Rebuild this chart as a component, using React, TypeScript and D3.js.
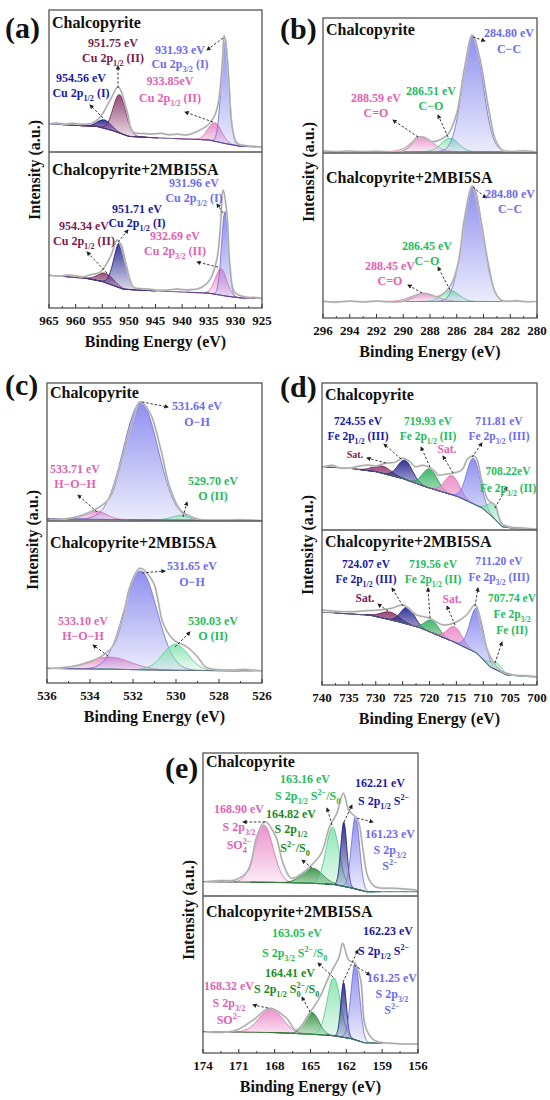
import React from "react";
import * as d3 from "d3";

const FONT = "'Liberation Serif', 'Times New Roman', serif";

// x-axis tick labels (binding energy, eV)
const ticksA = [965, 960, 955, 950, 945, 940, 935, 930, 925];
const ticksB = [296, 294, 292, 290, 288, 286, 284, 282, 280];
const ticksC = [536, 534, 532, 530, 528, 526];
const ticksD = [740, 735, 730, 725, 720, 715, 710, 705, 700];
const ticksE = [174, 171, 168, 165, 162, 159, 156];

// fitted components: [binding energy, height, FWHM, colour]
const peaksATop = [[954.56, 6, 3.0, "blue"], [951.75, 27, 2.8, "maroon"], [933.85, 13, 3.0, "pink"], [931.93, 74, 1.7, "lav"]];
const peaksABot = [[954.34, 6, 3.5, "maroon"], [951.71, 29, 2.6, "blue"], [932.69, 17, 2.5, "pink"], [931.96, 54, 1.5, "lav"]];
const peaksBTop = [[288.59, 11, 1.9, "pink"], [286.51, 10, 1.5, "mint"], [284.8, 86, 1.75, "lav"]];
const peaksBBot = [[288.45, 5, 2.2, "pink"], [286.45, 6.5, 1.5, "mint"], [284.8, 70, 1.75, "lav"]];
const peaksCTop = [[533.71, 6, 1.1, "pink"], [531.64, 85, 1.9, "lav"], [529.7, 3.5, 1.1, "mint"]];
const peaksCBot = [[533.1, 7.5, 2.3, "pink"], [531.65, 61, 1.8, "lav"], [530.03, 16, 1.4, "mint"]];
const peaksDTop = [[728.8, 5, 4, "maroon"], [724.55, 13, 3.2, "blue"], [719.93, 13, 3.2, "green"], [715.8, 13, 3.2, "pink"], [711.81, 31, 3.0, "lav"], [708.22, 9, 2.3, "mint"]];
const peaksDBot = [[727.3, 5, 4, "maroon"], [724.07, 11, 3.0, "blue"], [719.56, 8, 3.0, "green"], [715.3, 10, 3.2, "pink"], [711.2, 29, 3.0, "lav"], [707.74, 5, 2.5, "mint"]];
const peaksETop = [[168.9, 40, 1.8, "pink"], [164.82, 10.5, 2.0, "dgreen"], [163.16, 40, 1.3, "mint"], [162.21, 45, 0.6, "blue"], [161.23, 51, 0.8, "lav"]];
const peaksEBot = [[168.32, 15, 2.3, "pink"], [164.9, 14, 1.4, "dgreen"], [163.05, 37, 1.3, "mint"], [162.23, 35, 0.55, "blue"], [161.25, 49, 0.85, "lav"]];

// backgrounds: [binding energy, intensity]
const bgATop = [[965, 19.7], [956, 18], [953, 15], [950, 11], [945, 10], [935, 8.5], [932, 6], [929, 4], [925, 3.5]];
const bgABot = [[965, 21], [958, 19], [955, 17], [951, 12], [945, 11], [935, 9.5], [931.5, 7.5], [929, 6.5], [925, 6]];
const bgBTop = [[296, 1.2], [286, 1], [280, 0.8]];
const bgBBot = [[296, 10], [280, 10]];
const bgCTop = [[536, 1.5], [531, 0.8], [526, 0.3]];
const bgCBot = [[536, 9], [533, 8.5], [530, 7.8], [526, 7.5]];
const bgDTop = [[740, 43], [735, 42], [730, 39.7], [725, 35], [720.8, 29.5], [714.7, 22.7], [710.2, 15], [708, 8], [706.5, 2.3], [704, 1], [700, 0.5]];
const bgDBot = [[740, 47], [731, 45], [726, 41], [721.8, 37], [715.6, 28], [711.2, 20.6], [708.7, 11.6], [705.6, 6.5], [700, 5]];
const bgETop = [[174, 10], [168, 9.5], [165, 9], [163, 8], [161.5, 5.5], [160.3, 3], [156, 3]];
const bgEBot = [[174, 13.6], [168, 13], [165, 12], [163, 11], [161.5, 9], [160.5, 6.5], [156, 5.7]];

// measured spectra: [binding energy, intensity]
const rawATop = [[965, 19.7], [963.5, 20.4], [962, 19.6], [960.5, 20.3], [959, 19.5], [957, 20.2], [955.4, 24.6], [953.5, 36.6], [952, 45.8], [950.4, 29.6], [949.2, 14], [947.3, 13], [945.5, 12.6], [944, 13.2], [942.5, 12.1], [941, 12.6], [939.1, 12], [936.6, 15.5], [934.8, 20.4], [933.5, 29.6], [932.5, 60], [932.1, 82], [931.4, 60], [930.6, 17.6], [929.7, 6.3], [928, 4.5], [926.5, 4], [925.2, 3.5]];
const rawABot = [[965, 21], [963, 20.4], [961.5, 21.2], [960, 20.6], [958.6, 20], [957, 21.5], [955.4, 23], [953.5, 32.7], [952.2, 43.6], [951.7, 41.7], [950.4, 26.3], [949.2, 13.5], [947.5, 12.4], [946, 12], [944.5, 11.4], [942.8, 11.5], [941, 12.1], [939, 11.6], [936.6, 12.8], [934.8, 18], [933.5, 30.8], [932.9, 48], [932.3, 75.6], [931.6, 61], [931, 26.3], [930.1, 10], [928, 7], [926.5, 6.8], [925.2, 6.4]];
const rawBTop = [[296, 1.5], [295, 0.9], [294, 1.4], [293, 0.9], [292, 1.3], [291, 0.8], [290.1, 1.2], [289.5, 5], [288.9, 12], [288.2, 10], [287.8, 8.4], [287.2, 10], [286.6, 14.6], [286, 29.4], [285.4, 63.9], [284.84, 87.4], [284.3, 71.3], [283.6, 31.8], [283.1, 9.6], [282.6, 2.2], [282, 1.2], [281, 1.6], [280.2, 1]];
const rawBBot = [[296, 10.2], [295, 9.6], [294, 10.3], [293, 9.7], [292, 10.3], [291, 9.8], [290.1, 10], [289.3, 12], [288.6, 15], [287.8, 13.5], [287.4, 13], [286.5, 19.2], [285.9, 33], [285.4, 61.4], [284.84, 80], [284.3, 63.4], [283.6, 31], [283.1, 15], [282.6, 10.5], [281.5, 10.4], [280.8, 9.8], [280.2, 10]];
const rawCTop = [[535.9, 0.7], [535.2, 1.5], [534.6, 3.1], [533.8, 8], [533.1, 16.4], [532.6, 39.4], [532.1, 68.3], [531.67, 86.4], [531.2, 78], [530.7, 51.4], [530.3, 24.9], [529.8, 8], [529.3, 3.1], [528.9, 1], [528, 0.6], [527, 0.9], [526.1, 0.4]];
const rawCBot = [[535.9, 9], [534.5, 11], [533.5, 16.2], [532.9, 23.5], [532.45, 41], [532.14, 59.5], [531.67, 70.8], [531.05, 62], [530.85, 52], [530.6, 36.8], [530.1, 26.5], [529.5, 22.4], [529, 16.2], [528.6, 9.7], [527.5, 8], [526.8, 8.3], [526.1, 7.6]];
const rawDTop = [[739.75, 43], [738, 44], [737, 42.5], [735.1, 42], [733, 43.5], [731.4, 44.2], [730, 43.5], [728.3, 45.4], [726.5, 46], [724.9, 48.8], [723.5, 46], [722.7, 43], [721.3, 44], [720.2, 43], [719, 40], [718.4, 37.4], [717, 38], [715.9, 38.5], [714, 40.8], [712.8, 48.8], [711.5, 49.9], [710.3, 34], [709.1, 20.4], [707.8, 17], [706.6, 4.5], [705, 2], [703, 1.5], [701.5, 1], [700, 0.5]];
const rawDBot = [[740, 48.4], [737, 47.5], [734.2, 47.3], [731.5, 48], [729.2, 48.4], [727, 49.5], [724.9, 51.6], [722.4, 45.2], [721, 44], [719.9, 43], [717.4, 38.7], [714.9, 40.8], [713.1, 45.2], [711.5, 51.6], [710, 31.2], [708.7, 18.3], [706.9, 9.7], [704.4, 6.5], [702, 6], [700, 5.4]];
const rawETop = [[173.8, 10], [172.5, 10.8], [171.3, 11.2], [170.2, 18.2], [169.5, 41.5], [168.8, 52], [167.9, 41.5], [167.3, 22.9], [166.6, 12.4], [165.7, 15.9], [164.9, 21.7], [164.1, 29.9], [163.4, 48.5], [162.8, 57.8], [162.25, 71.8], [161.8, 60.1], [161.4, 56.6], [161, 52], [160.6, 32.2], [160.2, 13.5], [159.6, 6.5], [157.9, 5.4], [156.1, 4.2]];
const rawEBot = [[173.8, 13.6], [172.5, 13.1], [171.2, 14.6], [169.8, 21], [168.4, 28.5], [167, 22.1], [166.2, 14.6], [165, 26.3], [164.2, 35.9], [163.4, 49.7], [162.6, 61.3], [162.3, 69.9], [161.8, 59.2], [161.27, 57.1], [160.8, 46.5], [160.4, 16.8], [159.7, 8.3], [158.3, 6.2], [156.1, 5.7]];

const COLORS: any = {
  lav: { fill: "#8383ee", stroke: "#6a6ad8", text: "#6c6cf0" },
  blue: { fill: "#1e1e8c", stroke: "#16166e", text: "#1a1aa6" },
  maroon: { fill: "#8a3468", stroke: "#6a1e4c", text: "#7a1c52" },
  pink: { fill: "#ea86c6", stroke: "#d46aae", text: "#e262b4" },
  mint: { fill: "#86e4b0", stroke: "#4cc487", text: "#1fbd5c" },
  green: { fill: "#2fae5e", stroke: "#1f8c48", text: "#1fbd5c" },
  dgreen: { fill: "#2a8f3c", stroke: "#1d6e2c", text: "#1b8a22" },
};

// annotation labels: x, y (first baseline), colour, lines, line height
const labelsA = [
  { x: 113, y: 47, c: "maroon", lh: 15, lines: ["951.75 eV", "Cu 2p_{1/2} (II)"] },
  { x: 81, y: 82, c: "blue", lh: 15, lines: ["954.56 eV", "Cu 2p_{1/2} (I)"] },
  { x: 180, y: 54, c: "lav", lh: 14, lines: ["931.93 eV", "Cu 2p_{3/2} (I)"] },
  { x: 170, y: 85, c: "pink", lh: 17, lines: ["933.85eV", "Cu 2p_{3/2} (II)"] },
  { x: 194, y: 187, c: "lav", lh: 15, lines: ["931.96 eV", "Cu 2p_{3/2} (I)"] },
  { x: 137, y: 213, c: "blue", lh: 14, lines: ["951.71 eV", "Cu 2p_{1/2} (I)"] },
  { x: 84, y: 230, c: "maroon", lh: 15, lines: ["954.34 eV", "Cu 2p_{1/2} (II)"] },
  { x: 175, y: 240, c: "pink", lh: 15, lines: ["932.69 eV", "Cu 2p_{3/2} (II)"] },
];
const arrowsA = [[223, 38, 207, 50], [213, 122, 185, 112], [118, 88, 118, 66], [103, 118, 90, 105], [223, 213, 217, 204], [118, 242, 128, 230], [107, 273, 87, 252], [218, 267, 197, 262]];

const labelsB = [
  { x: 509, y: 37, c: "lav", lh: 16, lines: ["284.80 eV", "C\u2212C"] },
  { x: 431, y: 95, c: "mint", lh: 15, lines: ["286.51 eV", "C\u2212O"] },
  { x: 376, y: 102, c: "pink", lh: 15, lines: ["288.59 eV", "C=O"] },
  { x: 510, y: 198, c: "lav", lh: 15, lines: ["284.80 eV", "C\u2212C"] },
  { x: 427, y: 250, c: "mint", lh: 15, lines: ["286.45 eV", "C\u2212O"] },
  { x: 390, y: 270, c: "pink", lh: 15, lines: ["288.45 eV", "C=O"] },
];
const arrowsB = [[473, 37, 485, 41], [448, 137, 438, 115], [418, 137, 393, 120], [473, 187, 486, 198], [450, 290, 438, 267], [422, 293, 408, 285]];

const labelsC = [
  { x: 197, y: 410, c: "lav", lh: 16, lines: ["531.64 eV", "O\u2212H"] },
  { x: 75, y: 473, c: "pink", lh: 15, lines: ["533.71 eV", "H\u2212O\u2212H"] },
  { x: 213, y: 485, c: "mint", lh: 15, lines: ["529.70 eV", "O (II)"] },
  { x: 192, y: 570, c: "lav", lh: 16, lines: ["531.65 eV", "O\u2212H"] },
  { x: 83, y: 625, c: "pink", lh: 15, lines: ["533.10 eV", "H\u2212O\u2212H"] },
  { x: 213, y: 625, c: "mint", lh: 15, lines: ["530.03 eV", "O (II)"] },
];
const arrowsC = [[142, 402, 168, 407], [97, 512, 78, 495], [183, 517, 187, 502], [142, 573, 165, 571], [108, 656, 93, 645], [175, 647, 190, 632]];

const labelsD = [
  { x: 358, y: 425, c: "blue", lh: 15, lines: ["724.55 eV", "Fe 2p_{1/2} (III)"] },
  { x: 355, y: 458, c: "maroon", lh: 15, fs: 10, lines: ["Sat."] },
  { x: 428, y: 425, c: "mint", lh: 15, lines: ["719.93 eV", "Fe 2p_{1/2} (II)"] },
  { x: 447, y: 453, c: "pink", lh: 15, lines: ["Sat."] },
  { x: 499, y: 425, c: "lav", lh: 15, lines: ["711.81 eV", "Fe 2p_{3/2} (III)"] },
  { x: 508, y: 475, c: "mint", lh: 17, lines: ["708.22eV", "Fe 2p_{3/2} (II)"] },
  { x: 366, y: 568, c: "blue", lh: 15, lines: ["724.07 eV", "Fe 2p_{1/2} (III)"] },
  { x: 365, y: 602, c: "maroon", lh: 15, lines: ["Sat."] },
  { x: 433, y: 568, c: "mint", lh: 15, lines: ["719.56 eV", "Fe 2p_{1/2} (II)"] },
  { x: 452, y: 603, c: "pink", lh: 15, lines: ["Sat."] },
  { x: 499, y: 565, c: "lav", lh: 16, lines: ["711.20 eV", "Fe 2p_{3/2} (III)"] },
  { x: 512, y: 602, c: "mint", lh: 16, lines: ["707.74 eV", "Fe 2p_{3/2}", "Fe (II)"] },
];
const arrowsD = [[401, 459, 384, 444], [386, 463, 367, 458], [430, 467, 421, 447], [453, 473, 443, 456], [472, 457, 482, 443], [495, 508, 507, 487], [403, 606, 392, 588], [388, 611, 378, 604], [430, 618, 428, 588], [455, 625, 447, 606], [475, 606, 478, 588], [495, 663, 502, 642]];

const labelsE = [
  { x: 305, y: 783, c: "mint", lh: 15, lines: ["163.16 eV"] },
  { x: 275, y: 800, c: "mint", lh: 15, a: "start", lines: ["S 2p_{3/2} S^{2\u2212}/S_{0}"] },
  { x: 380, y: 787, c: "blue", lh: 15, lines: ["162.21 eV"] },
  { x: 358, y: 805, c: "blue", lh: 15, a: "start", lines: ["S 2p_{1/2}  S^{2\u2212}"] },
  { x: 239, y: 813, c: "pink", lh: 18, lines: ["168.90 eV", "S 2p_{3/2}", "SO_{4}^{2\u2212}"] },
  { x: 291, y: 818, c: "dgreen", lh: 15, lines: ["164.82 eV", "S 2p_{1/2}"] },
  { x: 295, y: 852, c: "dgreen", lh: 15, lines: ["S^{2\u2212}/S_{0}"] },
  { x: 390, y: 838, c: "lav", lh: 16, lines: ["161.23 eV", "S 2p_{3/2}", "S^{2\u2212}"] },
  { x: 297, y: 937, c: "mint", lh: 15, lines: ["163.05 eV"] },
  { x: 262, y: 957, c: "mint", lh: 15, a: "start", lines: ["S 2p_{3/2}  S^{2\u2212}/S_{0}"] },
  { x: 388, y: 935, c: "blue", lh: 15, lines: ["162.23 eV"] },
  { x: 358, y: 955, c: "blue", lh: 15, a: "start", lines: ["S 2p_{1/2}  S^{2\u2212}"] },
  { x: 290, y: 977, c: "dgreen", lh: 15, lines: ["164.41 eV"] },
  { x: 254, y: 993, c: "dgreen", lh: 15, a: "start", lines: ["S 2p_{1/2} S_{0}^{2\u2212}/S_{0}"] },
  { x: 229, y: 990, c: "pink", lh: 17, lines: ["168.32 eV", "S 2p_{3/2}", "SO^{2\u2212}"] },
  { x: 392, y: 982, c: "lav", lh: 16, lines: ["161.25 eV", "S 2p_{3/2}", "S^{2\u2212}"] },
];
const arrowsE = [[332, 825, 327, 808], [344, 822, 352, 805], [265, 822, 243, 822], [312, 868, 302, 860], [357, 818, 373, 822], [333, 977, 318, 963], [343, 982, 358, 950], [310, 1012, 302, 997], [268, 1008, 253, 1005], [354, 965, 370, 975]];

const panels = [
  { key: "a", letter: "(a)", lx: 5, ly: 38, left: 49, right: 262, top: 10, mid: 152, bottom: 308, domain: [965, 925], ticks: ticksA, minor: 2.5, yl: 170, bgLine: "#4b3c86",
    subs: [{ title: "Chalcopyrite", ty: 28, peaks: peaksATop, bg: bgATop, raw: rawATop }, { title: "Chalcopyrite+2MBI5SA", ty: 175, peaks: peaksABot, bg: bgABot, raw: rawABot }],
    labels: labelsA, arrows: arrowsA },
  { key: "b", letter: "(b)", lx: 280, ly: 39, left: 323, right: 537, top: 18, mid: 153, bottom: 318, domain: [296, 280], ticks: ticksB, minor: 1, yl: 172, bgLine: "#8a8a8a",
    subs: [{ title: "Chalcopyrite", ty: 35, peaks: peaksBTop, bg: bgBTop, raw: rawBTop }, { title: "Chalcopyrite+2MBI5SA", ty: 183, peaks: peaksBBot, bg: bgBBot, raw: rawBBot }],
    labels: labelsB, arrows: arrowsB },
  { key: "c", letter: "(c)", lx: 5, ly: 395, left: 47, right: 262, top: 383, mid: 521, bottom: 683, domain: [536, 526], ticks: ticksC, minor: 1, yl: 540, bgLine: "#6c6a86",
    subs: [{ title: "Chalcopyrite", ty: 398, peaks: peaksCTop, bg: bgCTop, raw: rawCTop }, { title: "Chalcopyrite+2MBI5SA", ty: 548, peaks: peaksCBot, bg: bgCBot, raw: rawCBot }],
    labels: labelsC, arrows: arrowsC },
  { key: "d", letter: "(d)", lx: 280, ly: 397, left: 322, right: 537, top: 383, mid: 530, bottom: 685, domain: [740, 700], ticks: ticksD, minor: 2.5, yl: 545, bgLine: "#4f5a7c",
    subs: [{ title: "Chalcopyrite", ty: 400, peaks: peaksDTop, bg: bgDTop, raw: rawDTop }, { title: "Chalcopyrite+2MBI5SA", ty: 547, peaks: peaksDBot, bg: bgDBot, raw: rawDBot }],
    labels: labelsD, arrows: arrowsD },
  { key: "e", letter: "(e)", lx: 165, ly: 778, left: 203, right: 418, top: 753, mid: 896, bottom: 1053, domain: [174, 156], ticks: ticksE, minor: 1.5, yl: 910, bgLine: "#2f7a3a",
    subs: [{ title: "Chalcopyrite", ty: 767, peaks: peaksETop, bg: bgETop, raw: rawETop }, { title: "Chalcopyrite+2MBI5SA", ty: 917, peaks: peaksEBot, bg: bgEBot, raw: rawEBot }],
    labels: labelsE, arrows: arrowsE },
];

function rich(str: string, fs: number) {
  const parts = str.match(/(_\{[^}]*\}|\^\{[^}]*\}|[^_^]+)/g) || [];
  const segs = parts.map((p) =>
    p.startsWith("_{") ? { t: p.slice(2, -1), k: "sub" } : p.startsWith("^{") ? { t: p.slice(2, -1), k: "sup" } : { t: p, k: "n" }
  );
  let cur = 0;
  return segs.map((s, i) => {
    const target = s.k === "sub" ? fs * 0.32 : s.k === "sup" ? -fs * 0.4 : 0;
    const dy = target - cur;
    cur = target;
    const prev = segs[i - 1];
    const dx = s.k === "sup" && prev && prev.k === "sub" ? -prev.t.length * fs * 0.68 * 0.5 : 0;
    return (
      <tspan key={i} dy={dy || undefined} dx={dx || undefined} fontSize={s.k === "n" ? fs : fs * 0.68}>
        {s.t}
      </tspan>
    );
  });
}

function Panel({ p }: { p: any }) {
  const x = d3.scaleLinear().domain(p.domain).range([p.left, p.right]);
  const lo = Math.min(...p.domain);
  const hi = Math.max(...p.domain);
  const minorTicks = p.ticks.slice(0, -1).map((t: number) => t - p.minor);

  return (
    <g>
      {p.subs.map((s: any, si: number) => {
        const y0 = si === 0 ? p.top : p.mid;
        const y1 = si === 0 ? p.mid : p.bottom;
        const y = d3.scaleLinear().domain([0, 100]).range([y1, y0]);
        const bgSorted = [...s.bg].sort((a: any, b: any) => a[0] - b[0]);
        const bgFn = d3.scaleLinear().domain(bgSorted.map((d: any) => d[0])).range(bgSorted.map((d: any) => d[1])).clamp(true);
        const clipId = `clip-${p.key}-${si}`;
        const bgPath = d3.line<number>().x((e) => x(e)).y((e) => y(bgFn(e)))(d3.range(lo, hi, (hi - lo) / 200).concat([hi]));
        const rawPath = d3.line<any>().x((d) => x(d[0])).y((d) => y(d[1])).curve(d3.curveCatmullRom.alpha(0.5))(s.raw);
        return (
          <g key={si}>
            <clipPath id={clipId}>
              <rect x={p.left} y={y0} width={p.right - p.left} height={y1 - y0} />
            </clipPath>
            <g clipPath={`url(#${clipId})`}>
              {s.peaks.map((pk: any, k: number) => {
                const [c, h, w, col] = pk;
                const a = Math.max(lo, c - 2.6 * w);
                const b = Math.min(hi, c + 2.6 * w);
                const es = d3.range(a, b, (b - a) / 120).concat([b]);
                const g = (e: number) => h * Math.exp((-4 * Math.LN2 * (e - c) * (e - c)) / (w * w));
                const area = d3.area<number>().x((e) => x(e)).y0((e) => y(bgFn(e))).y1((e) => y(bgFn(e) + g(e)))(es);
                return <path key={k} d={area || ""} fill={`url(#grad-${col})`} stroke={COLORS[col].stroke} strokeWidth={0.8} />;
              })}
              <path d={bgPath || ""} fill="none" stroke={p.bgLine} strokeWidth={1} />
              <path d={rawPath || ""} fill="none" stroke="#cdcdcd" strokeWidth={2} />
              <path d={rawPath || ""} fill="none" stroke="#9a9a9a" strokeWidth={0.8} />
            </g>
            <text x={p.left + 3} y={s.ty} fontFamily={FONT} fontWeight="bold" fontSize={16} fill="#111">
              {s.title}
            </text>
          </g>
        );
      })}

      <rect x={p.left} y={p.top} width={p.right - p.left} height={p.bottom - p.top} fill="none" stroke="#555" strokeWidth={1.3} />
      <line x1={p.left} x2={p.right} y1={p.mid} y2={p.mid} stroke="#555" strokeWidth={1.3} />

      {p.ticks.map((t: number) => (
        <g key={t}>
          <line x1={x(t)} x2={x(t)} y1={p.bottom} y2={p.bottom - 4} stroke="#333" strokeWidth={1} />
          <text x={x(t)} y={p.bottom + 17} textAnchor="middle" fontFamily={FONT} fontWeight="bold" fontSize={13} fill="#111">
            {t}
          </text>
        </g>
      ))}
      {minorTicks.map((t: number) => (
        <line key={`m${t}`} x1={x(t)} x2={x(t)} y1={p.bottom} y2={p.bottom - 2} stroke="#333" strokeWidth={0.9} />
      ))}
      <text x={(p.left + p.right) / 2} y={p.bottom + 39} textAnchor="middle" fontFamily={FONT} fontWeight="bold" fontSize={16} fill="#111">
        Binding Energy (eV)
      </text>
      <text transform={`translate(${p.left - 9},${p.yl}) rotate(-90)`} textAnchor="middle" fontFamily={FONT} fontWeight="bold" fontSize={16} fill="#111">
        Intensity (a.u.)
      </text>
      <text x={p.lx} y={p.ly} fontFamily={FONT} fontWeight="bold" fontSize={30} fill="#111">
        {p.letter}
      </text>

      {p.arrows.map((a: number[], i: number) => (
        <line key={`a${i}`} x1={a[0]} y1={a[1]} x2={a[2]} y2={a[3]} stroke="#222" strokeWidth={0.9} strokeDasharray="2.5,1.8" markerEnd="url(#arrowhead)" />
      ))}
      {p.labels.map((l: any, i: number) => {
        const fs = l.fs || (p.key === "d" ? 11.5 : 12);
        return (
          <g key={`l${i}`}>
            {l.lines.map((ln: string, j: number) => (
              <text key={j} x={l.x} y={l.y + j * l.lh} textAnchor={l.a || "middle"} fontFamily={FONT} fontWeight="bold" fontSize={fs} fill={COLORS[l.c].text}>
                {rich(ln, fs)}
              </text>
            ))}
          </g>
        );
      })}
    </g>
  );
}

export default function App() {
  return (
    <svg width={550} height={1100} style={{ position: "absolute", left: 0, top: 0, background: "#fff" }}>
      <defs>
        {Object.keys(COLORS).map((k) => (
          <linearGradient key={k} id={`grad-${k}`} x1="0" y1="0" x2="0" y2="1">
            <stop offset="0" stopColor={COLORS[k].fill} stopOpacity={0.9} />
            <stop offset="1" stopColor={COLORS[k].fill} stopOpacity={0.15} />
          </linearGradient>
        ))}
        <marker id="arrowhead" viewBox="0 0 10 10" refX="8" refY="5" markerWidth="5" markerHeight="5" orient="auto">
          <path d="M0,0 L10,5 L0,10 z" fill="#222" />
        </marker>
      </defs>
      <rect x={0} y={0} width={550} height={1100} fill="#fff" />
      {panels.map((p) => (
        <Panel key={p.key} p={p} />
      ))}
    </svg>
  );
}
